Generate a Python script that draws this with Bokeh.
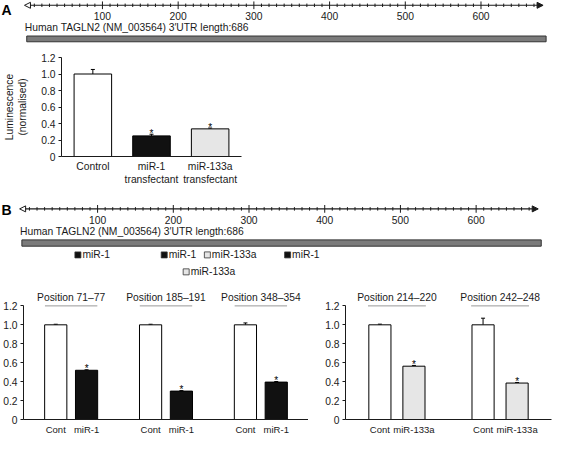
from bokeh.plotting import figure
from bokeh.layouts import column, row
from bokeh.models import (ColumnDataSource, FactorRange, Range1d, FixedTicker,
                          Whisker, TeeHead, Arrow, NormalHead)
from bokeh.transform import dodge
from bokeh.core.properties import value
from bokeh.embed import file_html
from bokeh.resources import INLINE

FONT = "Liberation Sans"

# ---------------- data ----------------
utr_length = 686
utr_label = "Human TAGLN2 (NM_003564) 3\u2032UTR length:686"
ruler_major = [100, 200, 300, 400, 500, 600]
ruler_labels = ["100", "200", "300", "400", "500", "600"]
ruler_minor = [v for v in range(10, 680, 10) if v % 100 != 0]

site_mirna = ["miR-1", "miR-1", "miR-133a", "miR-133a", "miR-1"]
site_start = [71, 185, 214, 242, 348]
site_end = [77, 191, 220, 248, 354]
site_row = [1, 1, 2, 1, 1]

a_categories = ["Control", "miR-1\ntransfectant", "miR-133a\ntransfectant"]
a_kind = ["Cont", "miR-1", "miR-133a"]
a_values = [1.00, 0.25, 0.335]
a_errors = [0.055, 0.02, 0.01]
a_signif = ["", "*", "*"]

b_positions = ["Position 71\u201377", "Position 185\u2013191", "Position 348\u2013354",
               "Position 214\u2013220", "Position 242\u2013248"]
b_treatment = ["miR-1", "miR-1", "miR-1", "miR-133a", "miR-133a"]
b_cont_values = [1.00, 1.00, 1.00, 1.00, 1.00]
b_cont_errors = [0.006, 0.006, 0.02, 0.007, 0.07]
b_mir_values = [0.52, 0.30, 0.395, 0.563, 0.385]
b_mir_errors = [0.005, 0.005, 0.006, 0.008, 0.006]

y_ticks = [0, 0.2, 0.4, 0.6, 0.8, 1.0, 1.2]
y_tick_labels = ["0", "0.2", "0.4", "0.6", "0.8", "1.0", "1.2"]

# ---------------- styles ----------------
FILL = {"Cont": "white", "miR-1": "#111111", "miR-133a": "#e6e6e6"}
INK = "#1a1a1a"
PXU = 0.779  # reference pixels per nucleotide on the ruler


def base_fig(**kw):
    p = figure(toolbar_location=None, output_backend="svg", title=None,
               outline_line_color=None, background_fill_color="white",
               border_fill_color="white", **kw)
    return p


def header_fig(letter, ruler_x0, band_top, band_bottom, h, letter_y, ruler_y,
               label_y, text_y, bar_y0, bar_y1, sites=False):
    p = base_fig(width=553, height=h,
                 x_range=Range1d(-ruler_x0 / PXU, (569 - ruler_x0) / PXU),
                 y_range=Range1d(band_bottom, band_top),
                 x_axis_type=None, y_axis_type=None, min_border=0)
    p.text(x=[(1 - ruler_x0) / PXU], y=[letter_y], text=[letter],
           text_font=value(FONT), text_font_style="bold", text_font_size="14px",
           text_align="left", text_baseline="middle", text_color="black")
    # ruler
    p.add_layout(Arrow(x_start=-3, y_start=ruler_y, x_end=682, y_end=ruler_y,
                       line_color=INK, line_width=1.1,
                       start=NormalHead(size=6, fill_color="white", line_color=INK, line_width=1),
                       end=NormalHead(size=6, fill_color=INK, line_color=INK, line_width=1)))
    p.segment(x0=ruler_minor, x1=ruler_minor, y0=ruler_y - 1.8, y1=ruler_y + 1.8,
              line_color=INK, line_width=1)
    p.segment(x0=ruler_major, x1=ruler_major, y0=ruler_y - 4, y1=ruler_y + 4,
              line_color=INK, line_width=1)
    p.text(x=ruler_major, y=[label_y] * len(ruler_major), text=ruler_labels,
           text_font=value(FONT), text_font_size="10.3px", text_align="center",
           text_baseline="middle", text_color=INK)
    p.text(x=[-2.5], y=[text_y], text=[utr_label], text_font=value(FONT),
           text_font_size="10.3px", text_align="left", text_baseline="middle",
           text_color=INK)
    p.quad(left=[0], right=[utr_length], top=[bar_y0], bottom=[bar_y1],
           fill_color="#7b7b7b", line_color="#333333", line_width=1)
    if sites:
        row_y = {1: 263.5, 2: 281.0}
        src = ColumnDataSource(dict(
            x=[(s + e) / 2 for s, e in zip(site_start, site_end)],
            y=[row_y[r] for r in site_row],
            name=site_mirna,
            fill=[FILL[m] for m in site_mirna],
        ))
        p.scatter(x="x", y="y", source=src, marker="square", size=6,
                  fill_color="fill", line_color="#333333", line_width=0.8)
        p.text(x="x", y="y", text="name", source=src, x_offset=4.5,
               text_font=value(FONT), text_font_size="10.3px", text_align="left",
               text_baseline="middle", text_color=INK)
    return p


def style_axes(p, label_size="10px", x_standoff=4):
    p.xgrid.visible = False
    p.ygrid.visible = False
    for ax in p.axis:
        ax.axis_line_color = INK
        ax.axis_line_width = 1
        ax.major_label_text_font = FONT
        ax.major_label_text_font_size = label_size
        ax.major_label_text_color = INK
        ax.minor_tick_line_color = None
    p.yaxis.major_label_text_font_size = "10.3px"
    p.xaxis.major_tick_line_color = None
    p.xaxis.major_tick_in = 0
    p.xaxis.major_tick_out = 0
    p.xaxis.major_label_standoff = x_standoff
    p.yaxis.ticker = FixedTicker(ticks=y_ticks)
    p.yaxis.major_label_overrides = dict(zip(y_ticks, y_tick_labels))
    p.yaxis.major_tick_in = 0
    p.yaxis.major_tick_out = 3
    p.yaxis.major_tick_line_color = INK
    p.yaxis.major_label_standoff = 3


# ---------------- panel A header ----------------
hA = header_fig("A", 27, 0, 50, 48, letter_y=10, ruler_y=5, label_y=16,
                text_y=28, bar_y0=37, bar_y1=43)

# ---------------- panel A chart ----------------
srcA = ColumnDataSource(dict(
    x=a_categories, top=a_values,
    err=[v + e for v, e in zip(a_values, a_errors)],
    fill=[FILL[k] for k in a_kind], sig=a_signif))
pA = base_fig(width=553, height=141,
              x_range=FactorRange(*a_categories, range_padding=0.023),
              y_range=Range1d(0, 1.2),
              min_border_left=55, min_border_right=312,
              min_border_top=9, min_border_bottom=33)
pA.vbar(x="x", top="top", width=0.64, source=srcA, fill_color="fill",
        line_color="black", line_width=1)
pA.add_layout(Whisker(source=srcA, base="x", lower="top", upper="err",
                      dimension="height", line_color="black", line_width=1,
                      upper_head=TeeHead(size=4, line_color="black", line_width=1),
                      lower_head=None))
pA.text(x="x", y="err", text="sig", source=srcA, text_font=value(FONT),
        text_font_size="10px", text_align="center", text_baseline="alphabetic",
        y_offset=-1, text_color="black")
style_axes(pA, label_size="10.3px", x_standoff=4)
pA.yaxis.axis_label = "Luminescence\n(normalised)"
pA.yaxis.axis_label_text_font = FONT
pA.yaxis.axis_label_text_font_size = "10.3px"
pA.yaxis.axis_label_text_font_style = "normal"
pA.yaxis.axis_label_text_color = INK
pA.yaxis.axis_label_standoff = 10

# ---------------- panel B header ----------------
hB = header_fig("B", 22, 196, 292, 93, letter_y=217.5, ruler_y=216,
                label_y=227.5, text_y=239, bar_y0=248, bar_y1=254.5, sites=True)


# ---------------- panel B charts ----------------
def b_chart(idx, width, mbl, mbr, group_padding, range_padding, bar_width):
    factors, top, err, fill, sig = [], [], [], [], []
    for i in idx:
        factors.append((b_positions[i], "Cont"))
        top.append(b_cont_values[i])
        err.append(b_cont_values[i] + b_cont_errors[i])
        fill.append(FILL["Cont"])
        sig.append("")
        factors.append((b_positions[i], b_treatment[i]))
        top.append(b_mir_values[i])
        err.append(b_mir_values[i] + b_mir_errors[i])
        fill.append(FILL[b_treatment[i]])
        sig.append("*")
    xr = FactorRange(*factors, group_padding=group_padding, factor_padding=0,
                     range_padding=range_padding)
    p = base_fig(width=width, height=155, x_range=xr, y_range=Range1d(0, 1.447),
                 min_border_left=mbl, min_border_right=mbr,
                 min_border_top=0, min_border_bottom=15)
    src = ColumnDataSource(dict(x=factors, top=top, err=err, fill=fill, sig=sig))
    p.vbar(x="x", top="top", width=bar_width, source=src, fill_color="fill",
           line_color="black", line_width=1)
    p.add_layout(Whisker(source=src, base="x", lower="top", upper="err",
                         dimension="height", line_color="black", line_width=1,
                         upper_head=TeeHead(size=4, line_color="black", line_width=1),
                         lower_head=None))
    p.text(x="x", y="err", text="sig", source=src, text_font=value(FONT),
           text_font_size="10px", text_align="center", text_baseline="alphabetic",
           y_offset=-1, text_color="black")
    groups = [b_positions[i] for i in idx]
    gsrc = ColumnDataSource(dict(g=groups, y=[1.2] * len(groups), ty=[1.284] * len(groups)))
    p.segment(x0=dodge("g", -0.85, range=xr), x1=dodge("g", 0.85, range=xr),
              y0="y", y1="y", source=gsrc, line_color="#999999", line_width=1)
    p.text(x="g", y="ty", text="g", source=gsrc, text_font=value(FONT),
           text_font_size="10.3px", text_align="center", text_baseline="middle",
           text_color=INK)
    style_axes(p, label_size="9.5px", x_standoff=4)
    p.yaxis.bounds = (0, 1.2)
    p.xaxis.group_text_font_size = "0px"
    p.xaxis.group_text_alpha = 0
    p.xaxis.separator_line_alpha = 0
    return p


pBL = b_chart([0, 1, 2], width=308, mbl=22, mbr=0, group_padding=1.077,
              range_padding=0.134, bar_width=0.72)
pBR = b_chart([3, 4], width=245, mbl=37, mbr=2, group_padding=1.03,
              range_padding=0.203, bar_width=0.65)

layout = column(row(hA), row(pA), row(hB), row(pBL, pBR))
open("out.html", "w").write(file_html(layout, INLINE))
